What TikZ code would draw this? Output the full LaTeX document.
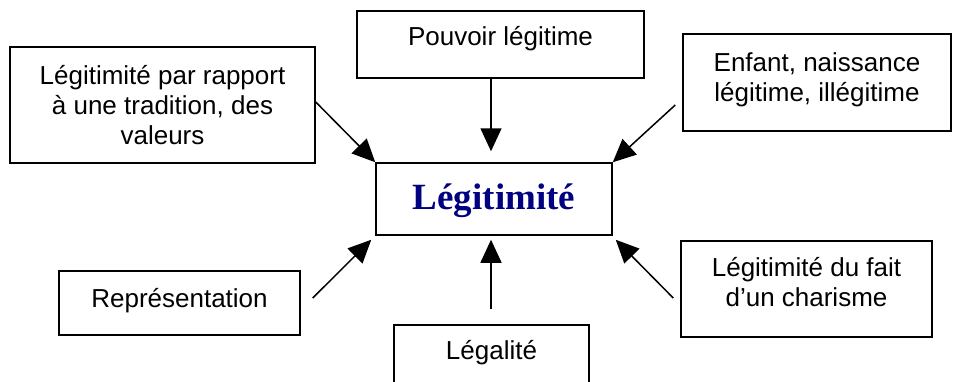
\documentclass[tikz,border=0pt]{standalone}
\usepackage{fontspec}
\setmainfont{Liberation Sans}
\newfontfamily\titlefont{Liberation Serif}
\usepackage{xcolor}
\usetikzlibrary{arrows.meta,positioning}
\definecolor{navy}{RGB}{0,0,128}

\begin{document}
\begin{tikzpicture}[x=1pt,y=-1pt,
    box/.style={draw,line width=1.5pt,inner sep=0pt,align=center,font=\fontsize{26}{30}\selectfont},
    arr/.style={line width=1.5pt,-{Triangle[length=23pt,width=21pt]}}]
  \useasboundingbox (0,0) rectangle (953,381);

  % the middle box
  \node[box,minimum width=236pt,text height=46pt,text depth=26pt,
        font=\titlefont\bfseries\fontsize{37}{40}\selectfont,text=navy] (mid) at (494,199) {Légitimité};

  % the boxes round it
  \node[box,minimum width=305pt,text height=97pt,text depth=19pt] (trad) at (162.5,105)
    {Légitimité par rapport\\à une tradition, des\\valeurs};
  \node[box,minimum width=287pt,text height=34pt,text depth=33pt] (pouvoir) at (500.5,44.5) {Pouvoir légitime};
  \node[box,minimum width=268pt,text height=67pt,text depth=30pt] (enfant) at (817,82.5)
    {Enfant, naissance\\légitime, illégitime};
  \node[box,minimum width=241pt,text height=36pt,text depth=28pt] (repr) at (179.5,303) {Représentation};
  \node[box,minimum width=195pt,text height=34pt,text depth=31pt] (legal) at (491.5,357.5) {Légalité};
  \node[box,minimum width=251pt,text height=65pt,text depth=31pt] (charisme) at (806.5,289)
    {Légitimité du fait\\d’un charisme};

  % the arrows
  \draw[arr] ([yshift=3pt]trad.east) -- (mid.north west);
  \draw[arr] ([xshift=-9.5pt]pouvoir.south) -- ([shift={(-3pt,11pt)}]mid.north);
  \draw[arr] ([shift={(-7pt,-22.5pt)}]enfant.west) -- (mid.north east);
  \draw[arr] ([shift={(12pt,5pt)}]repr.east) -- ([shift={(-4pt,-4pt)}]mid.south west);
  \draw[arr] ([shift={(-0.5pt,15pt)}]legal.north) -- ([shift={(-3pt,-4pt)}]mid.south);
  \draw[arr] ([shift={(-7pt,-9pt)}]charisme.west) -- ([shift={(3pt,-4pt)}]mid.south east);
\end{tikzpicture}
\end{document}
